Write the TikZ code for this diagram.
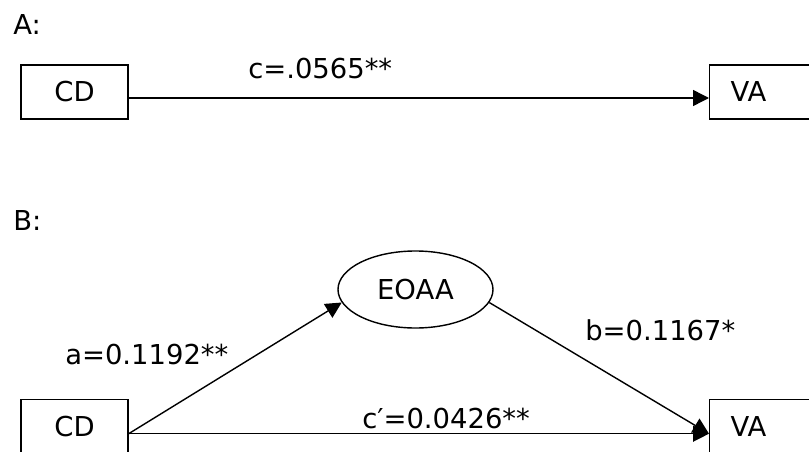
\documentclass[tikz,border=0pt]{standalone}
\usepackage{fontspec}
\setmainfont{DejaVu Sans}
\usepackage{tikz}
\usetikzlibrary{positioning,arrows.meta,shapes.geometric}

\begin{document}
\begin{tikzpicture}[x=1cm, y=1cm, font=\fontsize{19.5}{23}\selectfont,
  varbox/.style={draw, line width=1pt, minimum width=2.675cm, minimum height=1.35cm, inner sep=0pt},
  vabox/.style={draw, line width=1pt, anchor=west, minimum height=1.35cm, text width=2cm, align=left, inner xsep=0.525cm, inner ysep=0pt},
  medvar/.style={draw, ellipse, line width=1pt, minimum width=3.875cm, minimum height=1.925cm, inner sep=0pt},
  arr/.style={-{Triangle[length=0.4cm, width=0.4cm]}, line width=1pt},
  coef/.style={anchor=base west, inner sep=0pt}]
\clip (0,0) rectangle (20.225,11.275);
% panel A
\node[coef] (labA) at (0.325,10.4) {A:};
\node[varbox] (cdA) at (1.8625,8.975) {CD};
\node[vabox] (vaA) at (17.725,8.975) {VA};
\draw[arr] ([yshift=-0.15cm]cdA.east) -- ([yshift=-0.15cm]vaA.west);
\node[coef] (cA) at (6.2,9.325) {c=.0565**};
% panel B
\node[coef] (labB) at (0.325,5.525) {B:};
\node[varbox] (cdB) at (1.8625,0.6125) {CD};
\node[vabox] (vaB) at (17.725,0.6125) {VA};
\node[medvar] (eoaa) at (10.3875,4.0375) {EOAA};
\draw[arr] ([yshift=-0.18cm]cdB.east) -- (eoaa.190);
\draw[arr] (eoaa.-10) -- ([yshift=-0.18cm]vaB.west);
\draw[arr] ([yshift=-0.18cm]cdB.east) -- ([yshift=-0.18cm]vaB.west);
\node[coef] (aB) at (1.625,2.175) {a=0.1192**};
\node[coef] (bB) at (14.625,2.775) {b=0.1167*};
\node[coef] (cpB) at (9.05,0.575) {c′=0.0426**};
\end{tikzpicture}
\end{document}
